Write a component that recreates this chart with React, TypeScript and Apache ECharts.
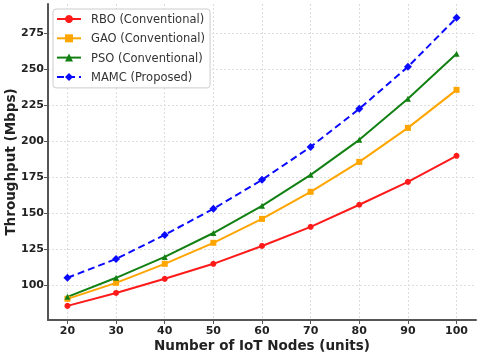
import React, { useEffect, useRef } from "react";
import * as echarts from "echarts";

const nodes = [20, 30, 40, 50, 60, 70, 80, 90, 100];
const rbo = [85.4, 94.4, 104.2, 114.6, 127.0, 140.3, 155.6, 171.5, 189.6];
const gao = [90.3, 101.4, 114.6, 129.2, 145.8, 164.6, 185.4, 209.0, 235.4];
const pso = [91.7, 104.9, 119.4, 136.0, 154.9, 176.4, 200.7, 229.2, 260.4];
const mamc = [104.9, 118.0, 134.7, 152.8, 172.9, 195.8, 222.2, 251.4, 285.4];
const yTicks = [100, 125, 150, 175, 200, 225, 250, 275];
const xTicks = [20, 30, 40, 50, 60, 70, 80, 90, 100];

const FONT = "DejaVu Sans";

export default function App() {
  const ref = useRef<HTMLDivElement>(null);
  useEffect(() => {
    if (!ref.current) return;
    const chart = echarts.init(ref.current, undefined, { renderer: "svg" });
    const mk = (name: string, data: number[], color: string, symbol: string, dashed = false, size = 6) => ({
      name,
      type: "line",
      data: nodes.map((n, i) => [n, data[i]]),
      symbol,
      symbolSize: size,
      showAllSymbol: true,
      lineStyle: { color, width: 2, type: dashed ? [7, 4] : "solid" },
      itemStyle: { color },
    });
    chart.setOption({
      animation: false,
      textStyle: { fontFamily: FONT },
      grid: { left: 48, right: 4, top: 4, bottom: 36, outerBoundsMode: "none", containLabel: false },
      legend: {
        left: 53,
        top: 9,
        orient: "vertical",
        backgroundColor: "#fff",
        borderColor: "#ccc",
        borderWidth: 1,
        borderRadius: 3,
        padding: [4, 5, 5, 3],
        itemWidth: 24,
        itemHeight: 10,
        itemGap: 7.3,
        textStyle: { fontFamily: FONT, fontSize: 11.5, color: "#333", lineHeight: 10, padding: [0, 0, 0, 5] },
        data: ["RBO (Conventional)", "GAO (Conventional)", "PSO (Conventional)", "MAMC (Proposed)"],
      },
      xAxis: {
        type: "value",
        min: 16,
        max: 104,
        name: "Number of IoT Nodes (units)",
        nameLocation: "middle",
        nameGap: 18,
        nameMoveOverlap: false,
        nameTextStyle: { fontFamily: FONT, fontSize: 13.5, fontWeight: "bold", color: "#222" },
        axisLine: { show: true, lineStyle: { color: "#555", width: 2 } },
        axisTick: { show: true, customValues: xTicks, length: 4, lineStyle: { color: "#555" } },
        axisLabel: { customValues: xTicks, fontFamily: FONT, fontSize: 11, fontWeight: "bold", color: "#222", margin: 5 },
        splitLine: { show: true, lineStyle: { color: "#ddd", type: [2, 2] } },
      },
      yAxis: {
        type: "value",
        min: 75.6,
        max: 295,
        name: "Throughput (Mbps)",
        nameLocation: "middle",
        nameGap: 31,
        nameMoveOverlap: false,
        nameTextStyle: { fontFamily: FONT, fontSize: 13.5, fontWeight: "bold", color: "#222" },
        axisLine: { show: true, lineStyle: { color: "#555", width: 2 } },
        axisTick: { show: true, customValues: yTicks, length: 4, lineStyle: { color: "#555" } },
        axisLabel: { customValues: yTicks, fontFamily: FONT, fontSize: 11, fontWeight: "bold", color: "#222", margin: 4 },
        splitLine: { show: true, lineStyle: { color: "#ddd", type: [2, 2] } },
      },
      series: [
        mk("RBO (Conventional)", rbo, "#ff1a1a", "circle"),
        mk("GAO (Conventional)", gao, "#ffa500", "rect"),
        mk("PSO (Conventional)", pso, "#128012", "triangle"),
        mk("MAMC (Proposed)", mamc, "#0a0aff", "diamond", true, 8),
      ],
    });
    return () => chart.dispose();
  }, []);
  return <div ref={ref} style={{ position: "fixed", left: 0, top: 0, width: 480, height: 356 }} />;
}
